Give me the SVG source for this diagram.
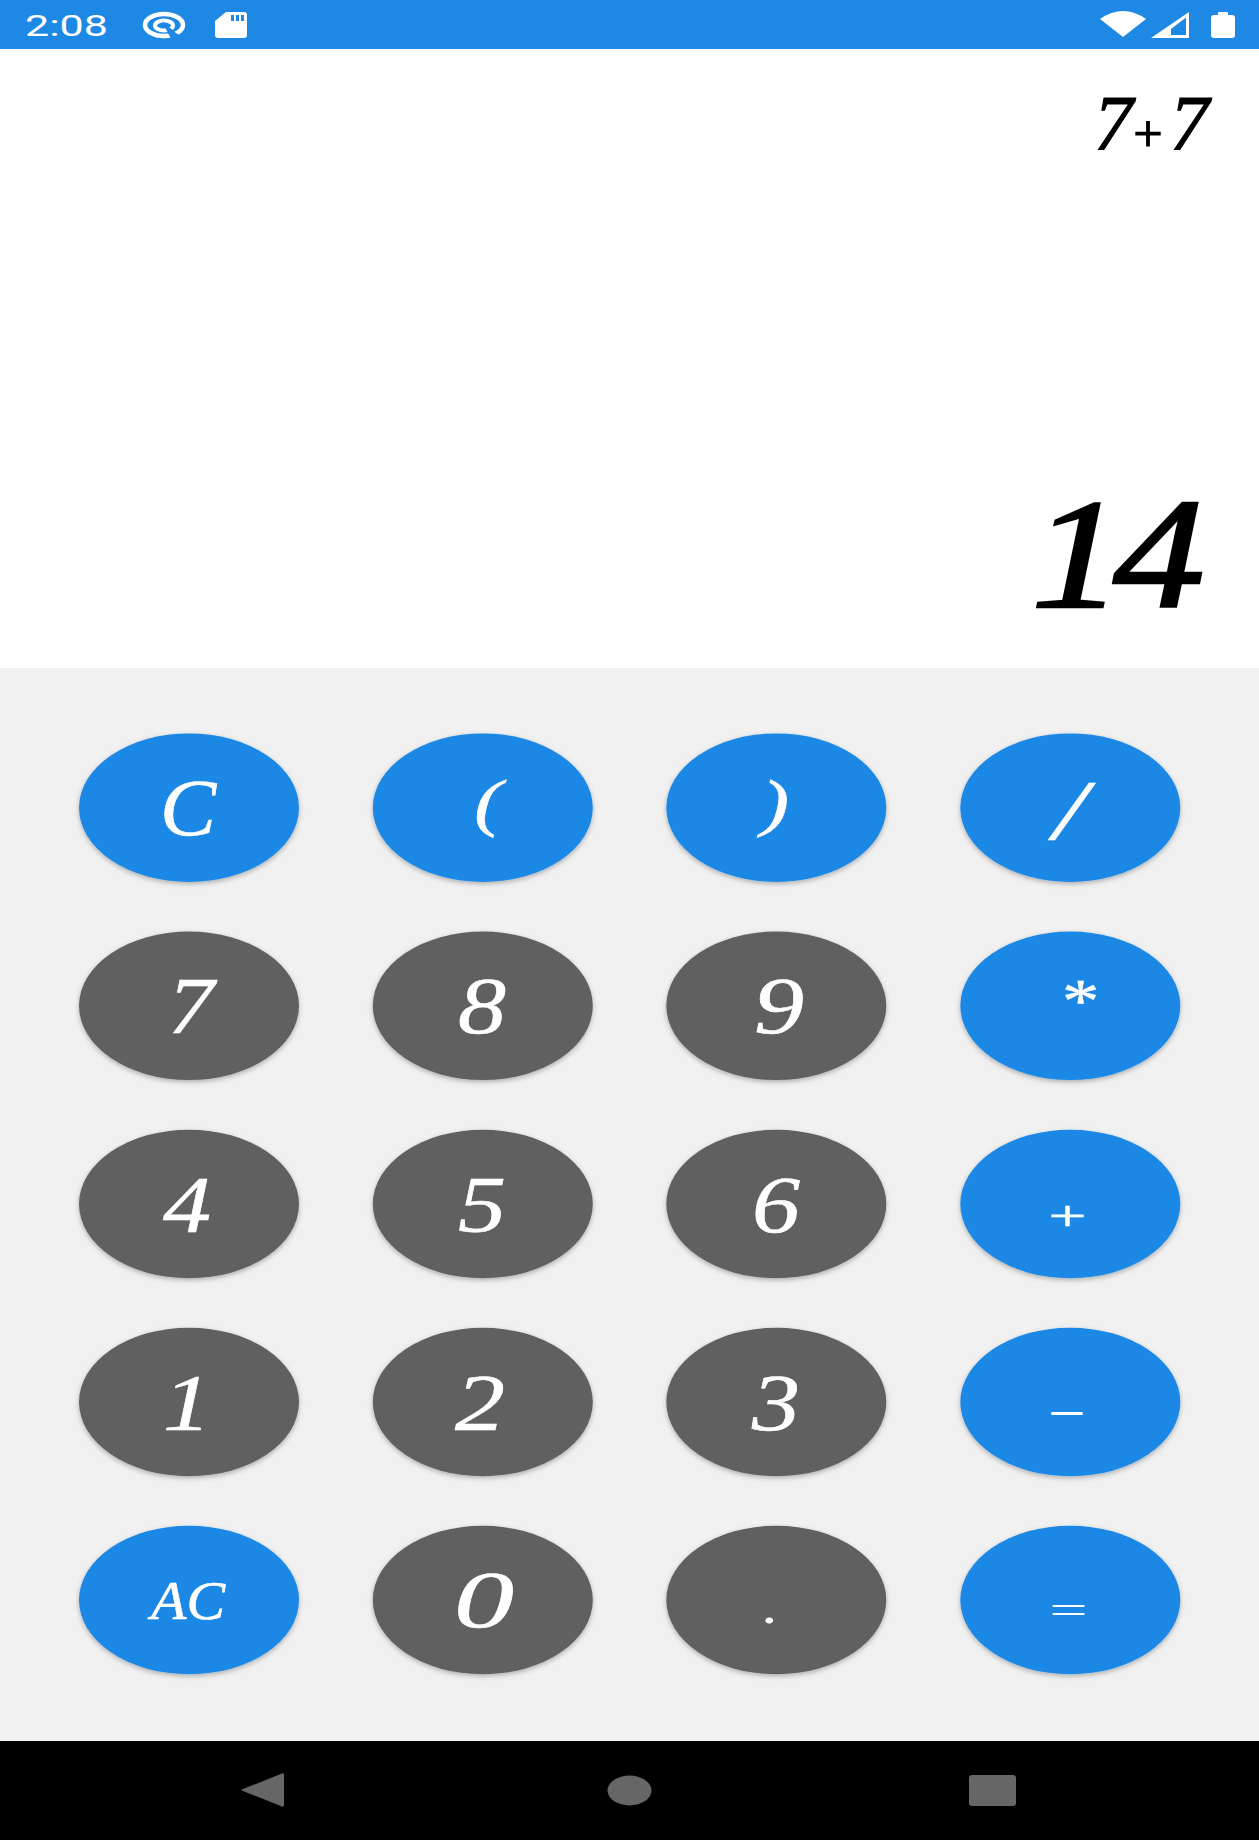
<svg xmlns="http://www.w3.org/2000/svg" width="1259" height="1840" viewBox="0 0 1259 1840">
<style>
.k{font-family:"Liberation Serif","Times New Roman",serif;font-style:italic;font-size:80px;fill:#fff;stroke:#fff;stroke-width:.6px;text-anchor:middle}
.d{font-family:"Liberation Serif","Times New Roman",serif;font-style:italic;fill:#000;stroke:#000}
.b{fill:#1e88e5;filter:url(#s)}
.g{fill:#616161;filter:url(#s)}
.n{fill:#666}
</style>
<defs>
<filter id="s" x="-10%" y="-10%" width="120%" height="125%"><feDropShadow dx="0" dy="2" stdDeviation="2.5" flood-color="#000" flood-opacity=".28"/></filter>
</defs>
<rect width="1259" height="1840" fill="#fff"/>
<rect y="668" width="1259" height="1073" fill="#f1f1f1"/>
<rect width="1259" height="49" fill="#1e88e5"/>
<rect y="1741" width="1259" height="99" fill="#000"/>
<g id="status-bar">
<text x="25" y="36" font-family="Roboto,sans-serif" font-size="29" fill="#fff" textLength="83" lengthAdjust="spacingAndGlyphs">2:08</text>
<ellipse cx="164" cy="25" rx="19" ry="11" fill="none" stroke="#fff" stroke-width="4.500"/>
<ellipse cx="164" cy="25.500" rx="9" ry="5" fill="none" stroke="#fff" stroke-width="4"/>
<path d="M162 21L176 33L186 39H171Z" fill="#1e88e5"/>
<path d="M226 12H244Q247 12 247 15V35Q247 38 244 38H218Q215 38 215 35V21Z" fill="#fff"/>
<path d="M231 15h3v6h-3zM236 15h3v6h-3zM241 15h3v6h-3z" fill="#1e88e5"/>
<path d="M1100 19Q1123 3 1146 19L1123 37Z" fill="#fff"/>
<path fill-rule="evenodd" d="M1151 38L1189 12V38ZM1171 35H1186V17.500L1171 29Z" fill="#fff"/>
<path d="M1218 15V13Q1218 12 1219 12H1227Q1228 12 1228 13V15H1232Q1235 15 1235 18V35Q1235 38 1232 38H1214Q1211 38 1211 35V18Q1211 15 1214 15Z" fill="#fff"/>
</g>
<g id="display">
<text id="expression" class="d" font-size="78" stroke-width="1.200" y="149" x="1094">7<tspan x="1130" y="151" font-size="52">+</tspan><tspan x="1170" y="149">7</tspan></text>
<text id="result" class="d" font-size="157" stroke-width="2.500" transform="translate(1031 607) scale(1.17,1)" x="0 70">14</text>
</g>
<g id="key-c"><ellipse class="b" cx="189" cy="807.700" rx="110" ry="74.300"/><text class="k" transform="translate(188 835) scale(1.05,1)">C</text></g>
<g id="key-lparen"><ellipse class="b" cx="482.800" cy="807.700" rx="110" ry="74.300"/><text class="k" style="font-size:64px" transform="translate(488 824) scale(1.3,1)">(</text></g>
<g id="key-rparen"><ellipse class="b" cx="776.300" cy="807.700" rx="110" ry="74.300"/><text class="k" style="font-size:64px" transform="translate(775 824) scale(1.3,1)">)</text></g>
<g id="key-div"><ellipse class="b" cx="1070.300" cy="807.700" rx="110" ry="74.300"/><text class="k" style="font-size:84px" transform="translate(1070 839) scale(1.4,1)">/</text></g>
<g id="key-7"><ellipse class="g" cx="189" cy="1005.800" rx="110" ry="74.300"/><text class="k" transform="translate(191 1033) scale(1.15,1)">7</text></g>
<g id="key-8"><ellipse class="g" cx="482.800" cy="1005.800" rx="110" ry="74.300"/><text class="k" transform="translate(482 1033) scale(1.2,1)">8</text></g>
<g id="key-9"><ellipse class="g" cx="776.300" cy="1005.800" rx="110" ry="74.300"/><text class="k" transform="translate(779 1033) scale(1.25,1)">9</text></g>
<g id="key-mul"><ellipse class="b" cx="1070.300" cy="1005.800" rx="110" ry="74.300"/><text class="k" style="font-size:62px" transform="translate(1077 1021) scale(1.2,1)">*</text></g>
<g id="key-4"><ellipse class="g" cx="189" cy="1204" rx="110" ry="74.300"/><text class="k" transform="translate(187 1232) scale(1.2,1)">4</text></g>
<g id="key-5"><ellipse class="g" cx="482.800" cy="1204" rx="110" ry="74.300"/><text class="k" transform="translate(482 1232) scale(1.2,1)">5</text></g>
<g id="key-6"><ellipse class="g" cx="776.300" cy="1204" rx="110" ry="74.300"/><text class="k" transform="translate(776 1232) scale(1.2,1)">6</text></g>
<g id="key-add"><ellipse class="b" cx="1070.300" cy="1204" rx="110" ry="74.300"/><text class="k" style="font-size:42px" transform="translate(1067 1230) scale(1.6,1)">+</text></g>
<g id="key-1"><ellipse class="g" cx="189" cy="1402" rx="110" ry="74.300"/><text class="k" transform="translate(187 1430) scale(1.2,1)">1</text></g>
<g id="key-2"><ellipse class="g" cx="482.800" cy="1402" rx="110" ry="74.300"/><text class="k" transform="translate(480 1430) scale(1.25,1)">2</text></g>
<g id="key-3"><ellipse class="g" cx="776.300" cy="1402" rx="110" ry="74.300"/><text class="k" transform="translate(776 1430) scale(1.2,1)">3</text></g>
<g id="key-sub"><ellipse class="b" cx="1070.300" cy="1402" rx="110" ry="74.300"/><text class="k" style="font-size:40px;stroke-width:0" transform="translate(1067 1423) scale(3,1)">-</text></g>
<g id="key-ac"><ellipse class="b" cx="189" cy="1600" rx="110" ry="74.300"/><text class="k" style="font-size:55px" transform="translate(188 1619) scale(1.05,1)">AC</text></g>
<g id="key-0"><ellipse class="g" cx="482.800" cy="1600" rx="110" ry="74.300"/><text class="k" transform="translate(484 1627) scale(1.5,1)">0</text></g>
<g id="key-dot"><ellipse class="g" cx="776.300" cy="1600" rx="110" ry="74.300"/><text class="k" style="font-size:50px;stroke-width:0" transform="translate(771 1623) scale(1.3,1)">.</text></g>
<g id="key-eq"><ellipse class="b" cx="1070.300" cy="1600" rx="110" ry="74.300"/><text class="k" style="font-size:40px;stroke-width:0" transform="translate(1068 1624) scale(1.7,1)">=</text></g>
<g id="nav-bar">
<path class="n" d="M282 1773.500Q284 1772.500 284 1775V1805Q284 1807.500 282 1806.500L243 1791Q240 1790 243 1789Z"/>
<ellipse class="n" cx="629.500" cy="1790.500" rx="22" ry="15"/>
<rect class="n" x="969" y="1775" width="47" height="31" rx="3"/>
</g>
<g id="connectors"/>
</svg>
